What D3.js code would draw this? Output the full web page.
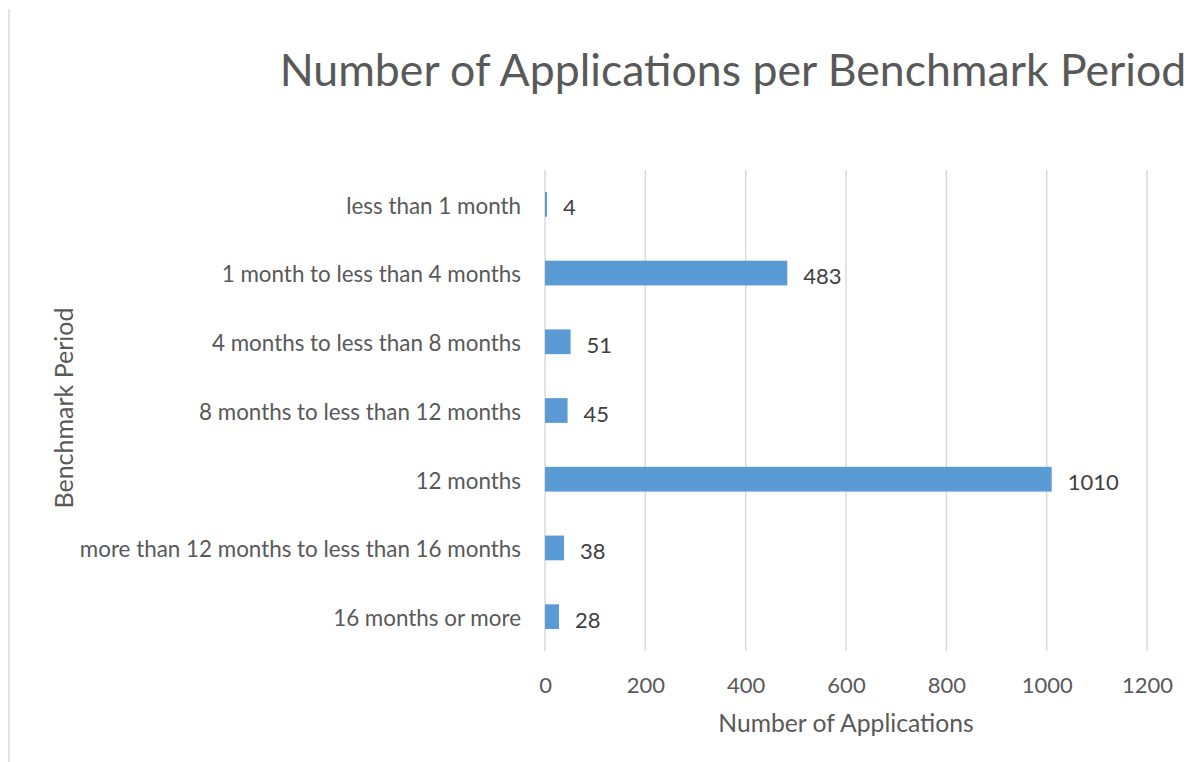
<!DOCTYPE html>
<html>
<head>
<meta charset="utf-8">
<script src="https://cdn.jsdelivr.net/npm/d3@7"></script>
<style>
  body { margin: 0; background: #fff; }
  text { font-family: Lato, "Open Sans", sans-serif; }
</style>
</head>
<body>
<div id="chart"></div>
<script>
// data
var categories = [
  "less than 1 month",
  "1 month to less than 4 months",
  "4 months to less than 8 months",
  "8 months to less than 12 months",
  "12 months",
  "more than 12 months to less than 16 months",
  "16 months or more"
];
var values = [4, 483, 51, 45, 1010, 38, 28];
var xTicks = [0, 200, 400, 600, 800, 1000, 1200];

var W = 1194, H = 762;
var margin = {top: 170, right: 47, bottom: 111, left: 545},
  width = W - margin.left - margin.right,
  height = H - margin.top - margin.bottom;

var svg = d3.select("#chart")
  .append("svg")
  .attr("width", W)
  .attr("height", H);

// chart frame, only the left edge shows
svg.append("line")
  .attr("x1", 9).attr("x2", 9)
  .attr("y1", 9).attr("y2", H)
  .attr("stroke", "#d9d9d9")
  .attr("stroke-width", 1.5);

var g = svg.append("g")
  .attr("transform", "translate(" + margin.left + "," + margin.top + ")");

var x = d3.scaleLinear()
  .domain([0, 1200])
  .range([0, width]);

var y = d3.scaleBand()
  .domain(categories)
  .range([0, height])
  .paddingInner(0.64)
  .paddingOuter(0.32);

// gridlines
g.selectAll(".grid")
  .data(xTicks)
  .enter().append("line")
  .attr("x1", d => x(d)).attr("x2", d => x(d))
  .attr("y1", 0).attr("y2", height)
  .attr("stroke", "#d9d9d9")
  .attr("stroke-width", 1.5);

// bars
g.selectAll(".bar")
  .data(values)
  .enter().append("rect")
  .attr("x", x(0))
  .attr("y", (d, i) => y(categories[i]))
  .attr("width", d => x(d) - x(0))
  .attr("height", y.bandwidth())
  .attr("fill", "#5b9bd5");

// value labels
g.selectAll(".val")
  .data(values)
  .enter().append("text")
  .attr("x", d => x(d) + 16)
  .attr("y", (d, i) => y(categories[i]) + y.bandwidth() / 2 + 11)
  .attr("font-size", 22)
  .attr("fill", "#404040")
  .text(d => d);

// x axis
var xAxis = g.append("g")
  .attr("transform", "translate(0," + height + ")")
  .call(d3.axisBottom(x).tickValues(xTicks).tickFormat(d3.format("d")).tickSize(0).tickPadding(26));
xAxis.select(".domain").remove();
xAxis.selectAll("text")
  .attr("font-size", 22)
  .attr("fill", "#595959");

// y axis
var yAxis = g.append("g")
  .call(d3.axisLeft(y).tickSize(0).tickPadding(24));
yAxis.select(".domain").remove();
yAxis.selectAll("text")
  .attr("font-size", 22.4)
  .attr("dy", "0.42em")
  .attr("fill", "#595959");

// titles
svg.append("text")
  .attr("x", 733)
  .attr("y", 86)
  .attr("text-anchor", "middle")
  .attr("font-size", 44.6)
  .attr("fill", "#595959")
  .text("Number of Applications per Benchmark Period");

svg.append("text")
  .attr("x", 846)
  .attr("y", 732)
  .attr("text-anchor", "middle")
  .attr("font-size", 24.7)
  .attr("fill", "#595959")
  .text("Number of Applications");

svg.append("text")
  .attr("transform", "translate(73,408) rotate(-90)")
  .attr("text-anchor", "middle")
  .attr("font-size", 25)
  .attr("fill", "#595959")
  .text("Benchmark Period");
</script>
</body>
</html>
